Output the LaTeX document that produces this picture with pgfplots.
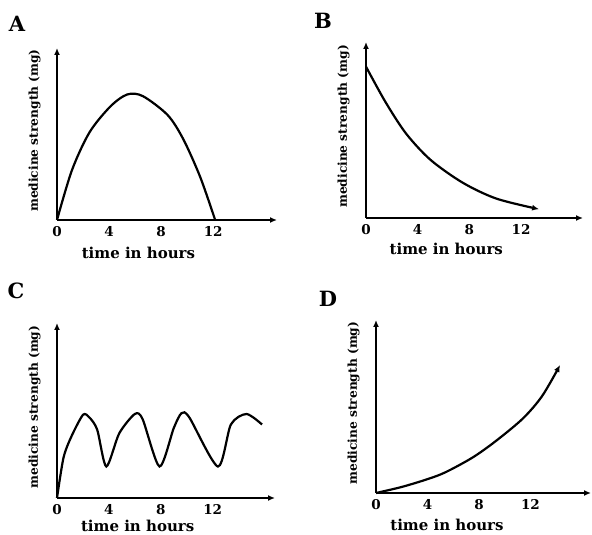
\documentclass[border=0pt]{standalone}
\usepackage{fontspec}
\setmainfont{DejaVu Serif}
\usepackage{pgfplots}
\pgfplotsset{compat=1.18}
\usetikzlibrary{arrows.meta}
\pgfplotsset{
  panel/.style={
    scale only axis, axis lines=left,
    axis line style={line width=2pt,-{Latex[length=7pt,width=6pt]}},
    xmin=0, ymin=0, ymax=10,
    xtick={0,4,8,12}, xticklabels={0,4,8,12}, ytick=\empty,
    major tick length=0pt,
    xticklabel style={font=\fontsize{13.5}{15}\selectfont\bfseries, yshift=-3pt},
    xlabel={time in hours},
    ylabel={medicine strength (mg)},
    xlabel style={font=\fontsize{15}{17}\selectfont\bfseries, at={(axis description cs:0.37,0)}, anchor=north, yshift=-22pt},
    ylabel style={font=\fontsize{12.2}{15}\selectfont\bfseries, at={(axis description cs:0,0.52)}, anchor=south, yshift=13pt},
    clip=false,
  },
  curve/.style={black, line width=2.2pt, smooth, no markers},
}
\begin{document}
\begin{tikzpicture}[x=1pt,y=1pt]
\useasboundingbox (0,0) rectangle (592,535);
\node[font=\fontsize{21}{24}\selectfont\bfseries] at (17,511) {A};
\node[font=\fontsize{21}{24}\selectfont\bfseries] at (323,514) {B};
\node[font=\fontsize{21}{24}\selectfont\bfseries] at (16,244) {C};
\node[font=\fontsize{21}{24}\selectfont\bfseries] at (328,236) {D};

\begin{axis}[panel, at={(57pt,315pt)}, anchor=south west, width=220pt, height=172pt, xmax=16.9, xlabel style={yshift=-2pt}]
\addplot[curve] coordinates {(0,0) (1.15,2.9) (2.5,5.1) (4.1,6.6) (5.4,7.3) (6.6,7.2) (8.5,6.1) (9.7,4.7) (11.0,2.5) (12.15,0)};
\end{axis}

\begin{axis}[panel, at={(366pt,317pt)}, anchor=south west, width=217pt, height=176pt, xmax=16.8]
\addplot[curve, -{Latex[length=7pt,width=6pt]}] coordinates {(0,8.6) (1.5,6.6) (3.1,4.8) (5,3.3) (7.5,2.0) (10.1,1.1) (13.4,0.5)};
\end{axis}

\begin{axis}[panel, at={(57pt,37pt)}, anchor=south west, width=218pt, height=175pt, xmax=16.8, xlabel style={yshift=3pt}]
\addplot[curve, tension=0.45] coordinates {(0,0) (0.5,2.3) (1.1,3.5) (2.0,4.75) (2.5,4.6) (3.1,3.9) (3.8,1.8) (4.8,3.7) (6.0,4.8) (6.6,4.5) (7.9,1.8) (9.0,4.0) (9.6,4.85) (10.2,4.6) (12.4,1.8) (13.4,4.2) (14.6,4.8) (15.8,4.2)};
\end{axis}

\begin{axis}[panel, at={(376pt,42pt)}, anchor=south west, width=215pt, height=173pt, xmax=16.7, xlabel style={at={(axis description cs:0.33,0)}, yshift=-1pt}]
\addplot[curve, -{Latex[length=7pt,width=6pt]}] coordinates {(0,0) (2,0.35) (4,0.8) (5.4,1.2) (7.5,2.05) (9.3,3.0) (11.4,4.3) (12.9,5.6) (14.3,7.4)};
\end{axis}
\end{tikzpicture}
\end{document}
